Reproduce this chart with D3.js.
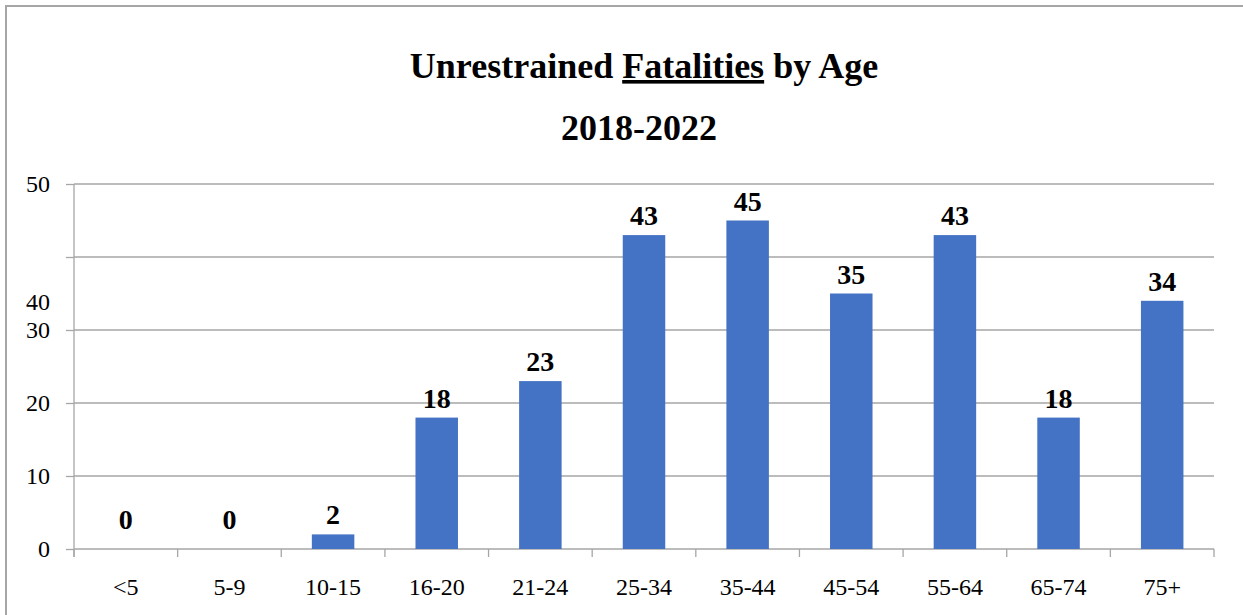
<!DOCTYPE html>
<html>
<head>
<meta charset="utf-8">
<script src="https://cdn.jsdelivr.net/npm/d3@7"></script>
<style>
  html, body { margin: 0; padding: 0; background: #fff; }
  svg { display: block; }
  text { font-family: "Liberation Serif", "Times New Roman", serif; fill: #000; }
</style>
</head>
<body>
<svg id="chart" width="1243" height="615"></svg>
<script>
const categories = ["<5", "5-9", "10-15", "16-20", "21-24", "25-34", "35-44", "45-54", "55-64", "65-74", "75+"];
const fatalities = [0, 0, 2, 18, 23, 43, 45, 35, 43, 18, 34];
const yTickValues = [0, 10, 20, 30, 40, 50];
const titleLine1 = ["Unrestrained ", "Fatalities", " by Age"];
const titleLine2 = "2018-2022";

(function () {
const svg = d3.select("#chart");
const W = 1243, H = 615;
const mLeft = 74, mRight = 1214, mTop = 184, mBottom = 549;
const barColor = "#4472C4";
const gridColor = "#a6a6a6";

// outer frame (only top and left visible)
svg.append("rect").attr("x", 6).attr("y", 6).attr("width", W + 20).attr("height", H + 20)
  .attr("fill", "none").attr("stroke", gridColor).attr("stroke-width", 2);

const x = d3.scaleBand().domain(categories).range([mLeft, mRight]).paddingInner(0.59).paddingOuter(0.295);
const y = d3.scaleLinear().domain([0, 50]).range([mBottom, mTop]);

// gridlines
svg.append("g").selectAll("line").data(yTickValues.filter(v => v > 0)).join("line")
  .attr("x1", mLeft).attr("x2", mRight)
  .attr("y1", d => y(d)).attr("y2", d => y(d))
  .attr("stroke", gridColor).attr("stroke-width", 1.3);

// y axis
const yAxis = svg.append("g").attr("transform", `translate(${mLeft},0)`)
  .call(d3.axisLeft(y).tickValues(yTickValues).tickSize(8).tickPadding(16).tickFormat(d3.format("d")));
yAxis.select(".domain").attr("stroke", gridColor).attr("stroke-width", 1.3)
  .attr("d", `M0,${y(50)}V${mBottom + 8}`);
yAxis.selectAll(".tick line").attr("stroke", gridColor).attr("stroke-width", 1.3);
yAxis.selectAll(".tick text").attr("font-size", 24)
  .style("font-family", '"Liberation Serif", "Times New Roman", serif').attr("fill", "#000");
// the "40" label sits below its gridline in the original
yAxis.selectAll(".tick").filter(d => d === 40).select("text").attr("y", y(33.9) - y(40));

// x axis
const xAxisG = svg.append("g").attr("transform", `translate(0,${mBottom})`);
xAxisG.append("line").attr("x1", mLeft).attr("x2", mRight).attr("y1", 0).attr("y2", 0)
  .attr("stroke", gridColor).attr("stroke-width", 1.3);
const boundaries = d3.range(categories.length + 1).map(i => mLeft + i * x.step());
xAxisG.selectAll("line.tk").data(boundaries).join("line").attr("class", "tk")
  .attr("x1", d => d).attr("x2", d => d).attr("y1", 0).attr("y2", 8)
  .attr("stroke", gridColor).attr("stroke-width", 1.3);
xAxisG.selectAll("text").data(categories).join("text")
  .attr("x", d => x(d) + x.bandwidth() / 2).attr("y", 46)
  .attr("text-anchor", "middle").attr("font-size", 24).text(d => d);

// bars
const data = categories.map((c, i) => ({ c, v: fatalities[i] }));
svg.append("g").selectAll("rect").data(data.filter(d => d.v > 0)).join("rect")
  .attr("x", d => x(d.c)).attr("width", x.bandwidth())
  .attr("y", d => y(d.v)).attr("height", d => y(0) - y(d.v))
  .attr("fill", barColor);

// value labels
svg.append("g").selectAll("text").data(data).join("text")
  .attr("x", d => x(d.c) + x.bandwidth() / 2)
  .attr("y", d => y(d.v) - (d.v === 0 ? 20 : 10))
  .attr("text-anchor", "middle").attr("font-size", 28).attr("font-weight", "bold")
  .text(d => d.v);

// title
const cx = (mLeft + mRight) / 2;
const t1 = svg.append("text").attr("x", cx).attr("y", 78).attr("text-anchor", "middle")
  .attr("font-size", 36).attr("font-weight", "bold");
titleLine1.forEach((s, i) => {
  const ts = t1.append("tspan").text(s);
  if (i === 1) ts.attr("text-decoration", "underline").style("text-decoration", "underline");
});
svg.append("text").attr("x", cx - 5).attr("y", 140).attr("text-anchor", "middle")
  .attr("font-size", 36).attr("font-weight", "bold").text(titleLine2);
})();
</script>
</body>
</html>
